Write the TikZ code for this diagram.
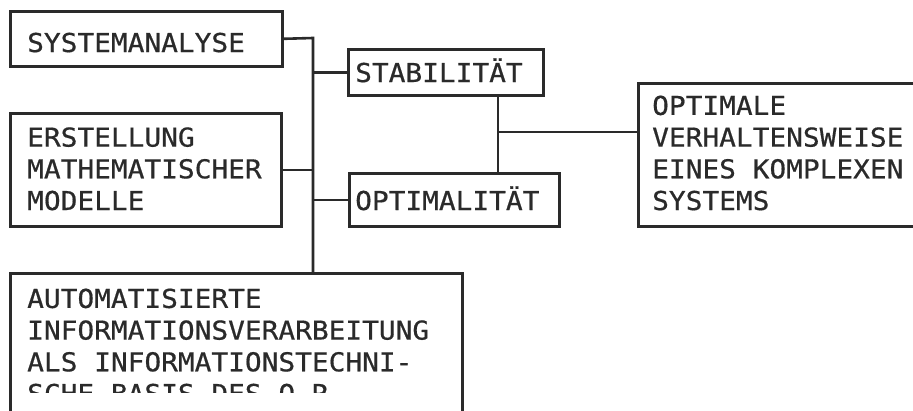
\documentclass[tikz,border=0pt]{standalone}
\usepackage{fontspec}
\newfontfamily\plotfont[FakeStretch=1.07,FakeBold=0.6]{DejaVu Sans Mono}
\definecolor{ink}{HTML}{2A2A2A}
\begin{document}
\begin{tikzpicture}[x=1pt,y=-1pt,
  ln/.style={draw=ink, line width=2.6pt},
  box/.style={ln, rectangle, inner sep=0pt, anchor=north west},
  txt/.style={font=\plotfont\fontsize{26}{31.7}\selectfont, text=ink, inner sep=0pt, anchor=base west, align=left}]
\clip (0,0) rectangle (913,410);
\fill[white] (0,0) rectangle (913,410);
% texts (multi-line nodes: base anchor = last line)
\node[txt] (tsa) at (27,52) {SYSTEMANALYSE};
\node[txt] (tem) at (27,210) {ERSTELLUNG\\MATHEMATISCHER\\MODELLE};
\node[txt] (tstab) at (355,82) {STABILITÄT};
\node[txt] (topt) at (355,210) {OPTIMALITÄT};
\node[txt] (tov) at (652,210) {OPTIMALE\\VERHALTENSWEISE\\EINES KOMPLEXEN\\SYSTEMS};
\node[txt] (tai) at (27,403) {AUTOMATISIERTE\\INFORMATIONSVERARBEITUNG\\ALS INFORMATIONSTECHNI-\\SCHE BASIS DES O.R.};
% cut-off strip of the scan
\fill[white] (12,393) rectangle (458,412);
% boxes
\node[box, minimum width=272pt, minimum height=55pt] (sa) at (9,10) {};
\node[box, minimum width=271pt, minimum height=113pt] (em) at (9,112) {};
\node[box, minimum width=195pt, minimum height=46pt] (stab) at (347,48) {};
\node[box, minimum width=210pt, minimum height=53pt] (opt) at (348,172) {};
\node[box, minimum width=290pt, minimum height=143pt] (ov) at (637,82) {};
\node[box, minimum width=452pt, minimum height=160pt] (ai) at (9,272) {};
% connectors
\coordinate (bt) at (313,38);
\coordinate (j) at (498,132);
\draw[ln] (sa.east) -- (bt) -- (bt |- ai.north);
\draw[ln] (em.east) -- (em.east -| bt);
\draw[ln] (stab.west -| bt) -- (stab.west);
\draw[ln] (opt.west -| bt) -- (opt.west);
\draw[ln] (j |- stab.south) -- (j |- opt.north);
\draw[ln] (j) -- (j -| ov.west);
\end{tikzpicture}
\end{document}
